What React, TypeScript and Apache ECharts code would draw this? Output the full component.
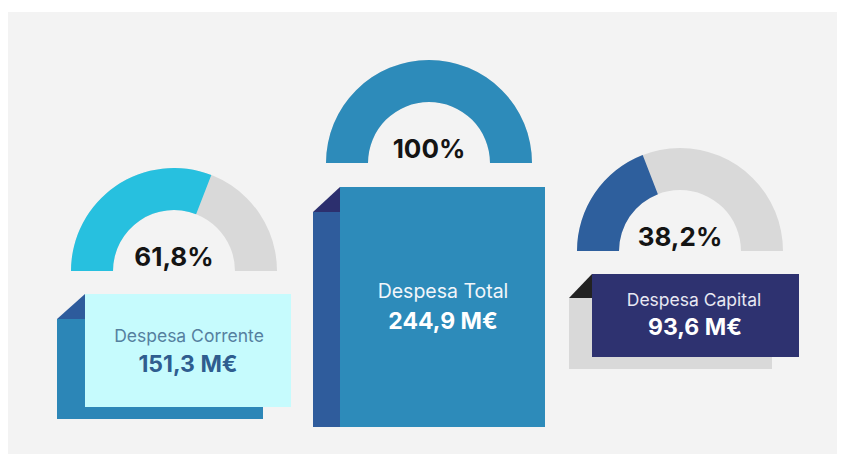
import React, { useEffect, useRef } from "react";
import * as echarts from "echarts";

const categories = ["Despesa Corrente", "Despesa Total", "Despesa Capital"];
const amounts = [151.3, 244.9, 93.6]; // M€
const shares = [61.8, 100, 38.2]; // % of total

const fmt = (v: number) => {
  const s = Number.isInteger(v) ? String(v) : v.toFixed(1);
  return s.replace(".", ",");
};

export default function App() {
  const ref = useRef<HTMLDivElement>(null);
  useEffect(() => {
    document.body.style.margin = "0";
    if (!ref.current) return;
    const chart = echarts.init(ref.current, undefined, { renderer: "svg" });

    const gauges = [
      { center: [174, 271], color: "#27c0df" },
      { center: [429, 163], color: "#2d8bba" },
      { center: [680, 251], color: "#2e5f9d" },
    ];

    const series = gauges.map((g, i) => ({
      type: "gauge",
      center: g.center,
      radius: 103,
      startAngle: 180,
      endAngle: 0,
      min: 0,
      max: 100,
      splitNumber: 1,
      pointer: { show: false },
      anchor: { show: false },
      axisTick: { show: false },
      splitLine: { show: false },
      axisLabel: { show: false },
      title: { show: false },
      axisLine: { lineStyle: { width: 42, color: [[1, "#d9d9d9"]] } },
      progress: { show: true, width: 42, roundCap: false, overlap: true, itemStyle: { color: g.color } },
      detail: {
        offsetCenter: [0, -15],
        fontSize: 26,
        fontWeight: "bold",
        fontFamily: "Inter",
        color: "#141414",
        valueAnimation: false,
        formatter: (v: number) => fmt(v) + "%",
      },
      data: [{ value: shares[i], name: categories[i] }],
    }));

    const txt = (text: string, x: number, y: number, size: number, weight: string, fill: string) => ({
      type: "text",
      z: 10,
      style: {
        text,
        x,
        y,
        fill,
        font: `${weight} ${size}px Inter`,
        textAlign: "center",
        textVerticalAlign: "middle",
        align: "center",
        verticalAlign: "middle",
      },
    });

    const graphic: any[] = [
      { type: "rect", z: -10, shape: { x: 8, y: 12, width: 829, height: 442 }, style: { fill: "#f3f3f3" } },
      // left card
      { type: "rect", shape: { x: 57, y: 319, width: 206, height: 100 }, style: { fill: "#2c86b7" } },
      { type: "polygon", shape: { points: [[85, 294], [57, 319], [85, 319]] }, style: { fill: "#2d5b9c" } },
      { type: "rect", shape: { x: 85, y: 294, width: 206, height: 113 }, style: { fill: "#c6fbfd" } },
      // center card
      { type: "rect", shape: { x: 313, y: 212, width: 30, height: 215 }, style: { fill: "#2f5c9c" } },
      { type: "polygon", shape: { points: [[340, 187], [313, 212], [340, 212]] }, style: { fill: "#2c2f6e" } },
      { type: "rect", shape: { x: 340, y: 187, width: 205, height: 240 }, style: { fill: "#2d8bba" } },
      // right card
      { type: "rect", shape: { x: 569, y: 298, width: 203, height: 71 }, style: { fill: "#d9d9d9" } },
      { type: "polygon", shape: { points: [[592, 274], [569, 298], [592, 298]] }, style: { fill: "#222222" } },
      { type: "rect", shape: { x: 592, y: 274, width: 207, height: 83 }, style: { fill: "#2e3270" } },
      txt(categories[0], 189, 335, 17.5, "normal", "#55809f"),
      txt(fmt(amounts[0]) + " M€", 188, 364, 23, "bold", "#2f5d8f"),
      txt(categories[1], 443, 291, 19.5, "normal", "#f2f6fa"),
      txt(fmt(amounts[1]) + " M€", 443, 321, 23, "bold", "#ffffff"),
      txt(categories[2], 694, 299, 17.5, "normal", "#e8e8f3"),
      txt(fmt(amounts[2]) + " M€", 695, 327, 23, "bold", "#ffffff"),
    ];

    chart.setOption({
      animation: false,
      backgroundColor: "#ffffff",
      series,
      graphic,
    } as any);
    return () => chart.dispose();
  }, []);
  return <div ref={ref} style={{ width: 841, height: 459 }} />;
}
